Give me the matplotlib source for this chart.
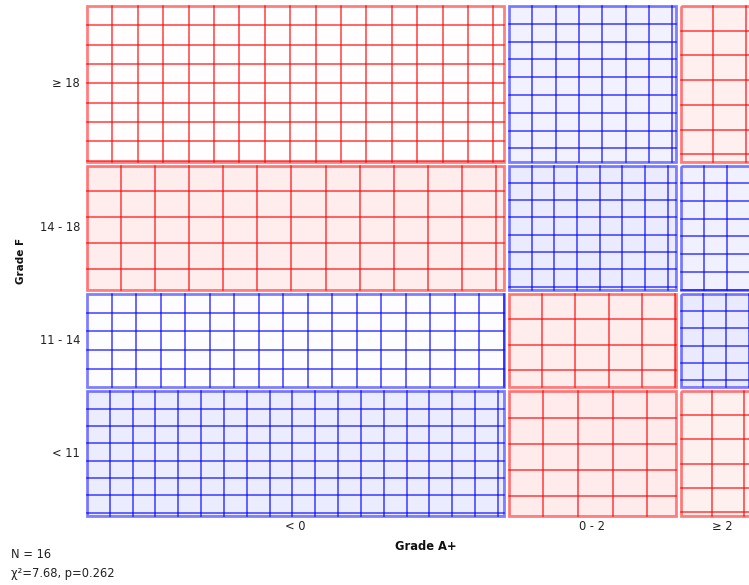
import numpy as np
import matplotlib
matplotlib.use('Agg')
from matplotlib import pyplot as plt
from matplotlib.patches import Rectangle

plt.rcParams['font.family'] = ['DejaVu Sans']

# 数据: 行 = Grade F, 列 = Grade A+
col_labels = ['< 0', '0 - 2', '≥ 2']
row_labels = ['≥ 18', '14 - 18', '11 - 14', '< 11']
observed = np.array([[3, 2, 0],
                     [1, 2, 1],
                     [2, 0, 1],
                     [4, 0, 0]])
x_title = 'Grade A+'
y_title = 'Grade F'

N = observed.sum()
row_tot = observed.sum(axis=1)
col_tot = observed.sum(axis=0)
expected = np.outer(row_tot, col_tot) / N
chi2 = ((observed - expected) ** 2 / expected).sum()
p_value = 0.262  # df=6

# 画布 (像素坐标)
X0, Y0 = 87, 6
W, H = 667, 497.6
GAP_X, GAP_Y = 5, 4
SX, SY = 1.235, 0.94   # 原图横向拉伸


def tile_color(p):
    v = max(int(255 - 20 * abs(p)), 55) / 255
    if p > 0:
        return (v, v, 1.0), (0, 0, 1)
    return (1.0, v, v), (1, 0, 0)


def draw_tile(ax, x, y, w, h, p):
    face, edge = tile_color(p)
    ax.add_patch(Rectangle((x, y), w, h, facecolor=face, edgecolor='none', zorder=1))
    # 网格线间距
    if p > 0:
        dist = 20 - 1.6 * min(p, 10)
    else:
        dist = 20 - 8 * max(p, -10)
    dx, dy = dist * SX, dist * SY
    a = dx
    while a < w:
        ax.plot([x + a, x + a], [y, y + h], color=edge, lw=1.1, alpha=0.75, zorder=2)
        a += dx
    a = dy
    while a < h:
        ax.plot([x, x + w], [y + a, y + a], color=edge, lw=1.1, alpha=0.75, zorder=2)
        a += dy
    ax.add_patch(Rectangle((x, y), w, h, facecolor='none', edgecolor=edge,
                           lw=2.0, alpha=0.5, zorder=3))


fig = plt.figure(figsize=(7.49, 5.85), dpi=100)
ax = fig.add_axes([0, 0, 1, 1])
ax.set_xlim(0, 749)
ax.set_ylim(585, 0)
ax.axis('off')

widths = col_tot / N * W
heights = row_tot / N * H
cx = X0
for j in range(len(col_labels)):
    cy = Y0
    for i in range(len(row_labels)):
        p = (observed[i, j] - expected[i, j]) / np.sqrt(expected[i, j])
        draw_tile(ax, cx, cy, widths[j], heights[i], p)
        if j == 0:
            ax.text(80, cy + heights[i] / 2, row_labels[i], ha='right', va='center',
                    fontsize=8.3, color='#222222')
        cy += heights[i] + GAP_Y
    ax.text(cx + widths[j] / 2, 527, col_labels[j], ha='center', va='center',
            fontsize=8.3, color='#222222')
    cx += widths[j] + GAP_X

ax.text(X0 + (W + 2 * GAP_X) / 2, 546, x_title, ha='center', va='center',
        fontsize=8.3, fontweight='bold', color='#111111')
ax.text(21, Y0 + (H + 3 * GAP_Y) / 2, y_title, ha='center', va='center', rotation=90,
        fontsize=7.5, fontweight='bold', color='#111111')

ax.text(11, 555, 'N = %d' % N, ha='left', va='center', fontsize=8.3, color='#222222')
ax.text(11, 574, 'χ²=%.2f, p=%.3f' % (chi2, p_value), ha='left', va='center',
        fontsize=8.3, color='#222222')

plt.savefig('out.png', dpi=100, facecolor='white')
